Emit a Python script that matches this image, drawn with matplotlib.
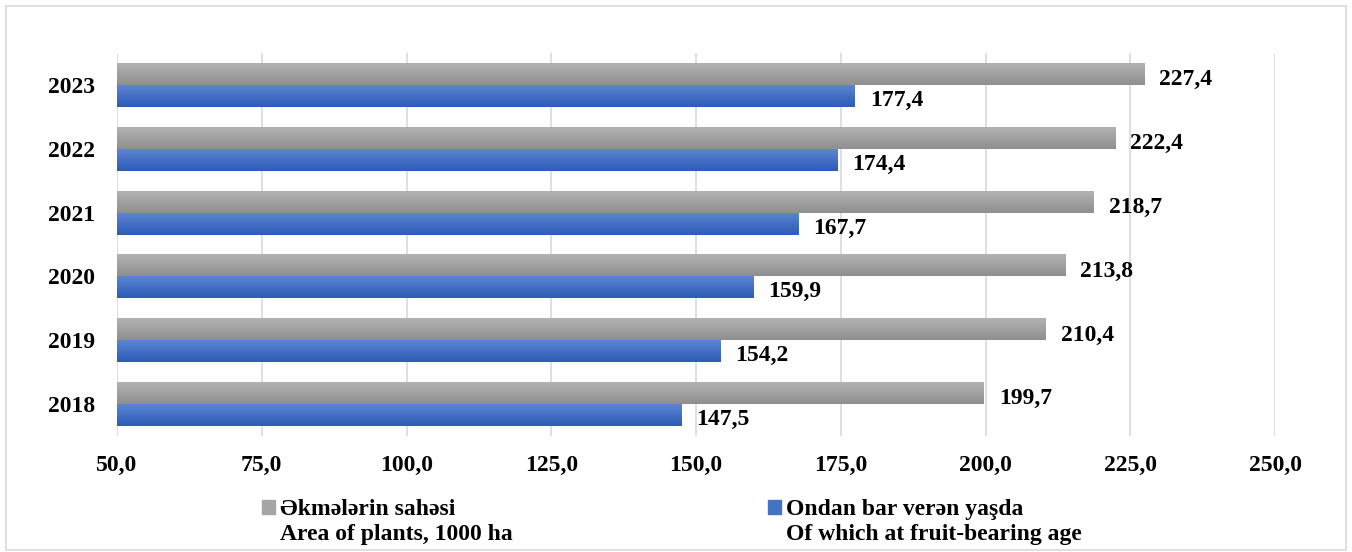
import numpy as np
import matplotlib
matplotlib.use("Agg")
import matplotlib.pyplot as plt
from matplotlib.patches import Rectangle
from matplotlib.colors import LinearSegmentedColormap

# data
years = ["2018", "2019", "2020", "2021", "2022", "2023"]
area_total = [199.7, 210.4, 213.8, 218.7, 222.4, 227.4]
area_fruit = [147.5, 154.2, 159.9, 167.7, 174.4, 177.4]
legend_labels = ["Əkmələrin sahəsi\nArea of plants, 1000 ha",
                 "Ondan bar verən yaşda\nOf which at fruit-bearing age"]
xticks = [50, 75, 100, 125, 150, 175, 200, 225, 250]

plt.rcParams["font.family"] = ["Liberation Serif", "DejaVu Serif"]
plt.rcParams["font.weight"] = "bold"
FS = 17

fig = plt.figure(figsize=(13.52, 5.52), dpi=100)
ax = fig.add_axes([117 / 1352, 1 - 436 / 552, 1158 / 1352, 383 / 552])

# light frame around the whole chart
fig.patches.append(Rectangle((6 / 1352, 2 / 552), 1340 / 1352, 544 / 552,
                             transform=fig.transFigure, fill=False,
                             edgecolor="#d9d9d9", linewidth=1.2))

h = 0.345
y = np.arange(len(years))

gray_cmap = LinearSegmentedColormap.from_list("g", ["#8f8f8f", "#b4b4b4"])
blue_cmap = LinearSegmentedColormap.from_list("b", ["#2c5cb6", "#5e86d4"])
grad = np.linspace(0, 1, 64).reshape(-1, 1)


def gradient_bars(ypos, values, cmap, solid):
    bars = ax.barh(ypos, [v - 50 for v in values], left=50, height=h,
                   color=solid, zorder=2)
    for b in bars:
        x0, y0 = b.get_x(), b.get_y()
        im = ax.imshow(grad, cmap=cmap, aspect="auto", origin="lower",
                       extent=(x0, x0 + b.get_width(), y0, y0 + b.get_height()),
                       zorder=3)
        im.set_clip_path(b)
    return bars


gradient_bars(y + h / 2, area_total, gray_cmap, "#a5a5a5")
gradient_bars(y - h / 2, area_fruit, blue_cmap, "#4472c4")

for i in range(len(years)):
    ax.text(area_total[i] + 2.6, y[i] + h / 2 - 0.09,
            f"{area_total[i]:.1f}".replace(".", ","),
            ha="left", va="center", fontsize=FS, fontweight="bold")
    ax.text(area_fruit[i] + 2.6, y[i] - h / 2 - 0.07,
            f"{area_fruit[i]:.1f}".replace(".", ","),
            ha="left", va="center", fontsize=FS, fontweight="bold")

ax.set_xlim(50, 250)
ax.set_ylim(-0.5, len(years) - 0.5)
ax.set_xticks(xticks)
ax.set_xticklabels([f"{t:.1f}".replace(".", ",") for t in xticks],
                   fontsize=FS, fontweight="bold")
ax.set_yticks(y)
ax.set_yticklabels(years, fontsize=FS, fontweight="bold")
ax.tick_params(length=0, pad=14)
ax.tick_params(axis="y", pad=16)
ax.grid(axis="x", color="#d9dce3", linewidth=1.3, zorder=0)
ax.set_axisbelow(True)
for s in ax.spines.values():
    s.set_visible(False)

# legend drawn by hand, two entries below the axis
leg_x = [262, 768]
for lx, lab, col in zip(leg_x, legend_labels, ["#a5a5a5", "#4472c4"]):
    fig.patches.append(Rectangle((lx / 1352, 1 - 514 / 552), 13 / 1352, 14 / 552,
                                 transform=fig.transFigure, color=col))
    fig.text((lx + 18) / 1352, 1 - 522 / 552, lab, ha="left", va="center",
             fontsize=FS, fontweight="bold", linespacing=1.2)

fig.savefig("out.png", dpi=100)
